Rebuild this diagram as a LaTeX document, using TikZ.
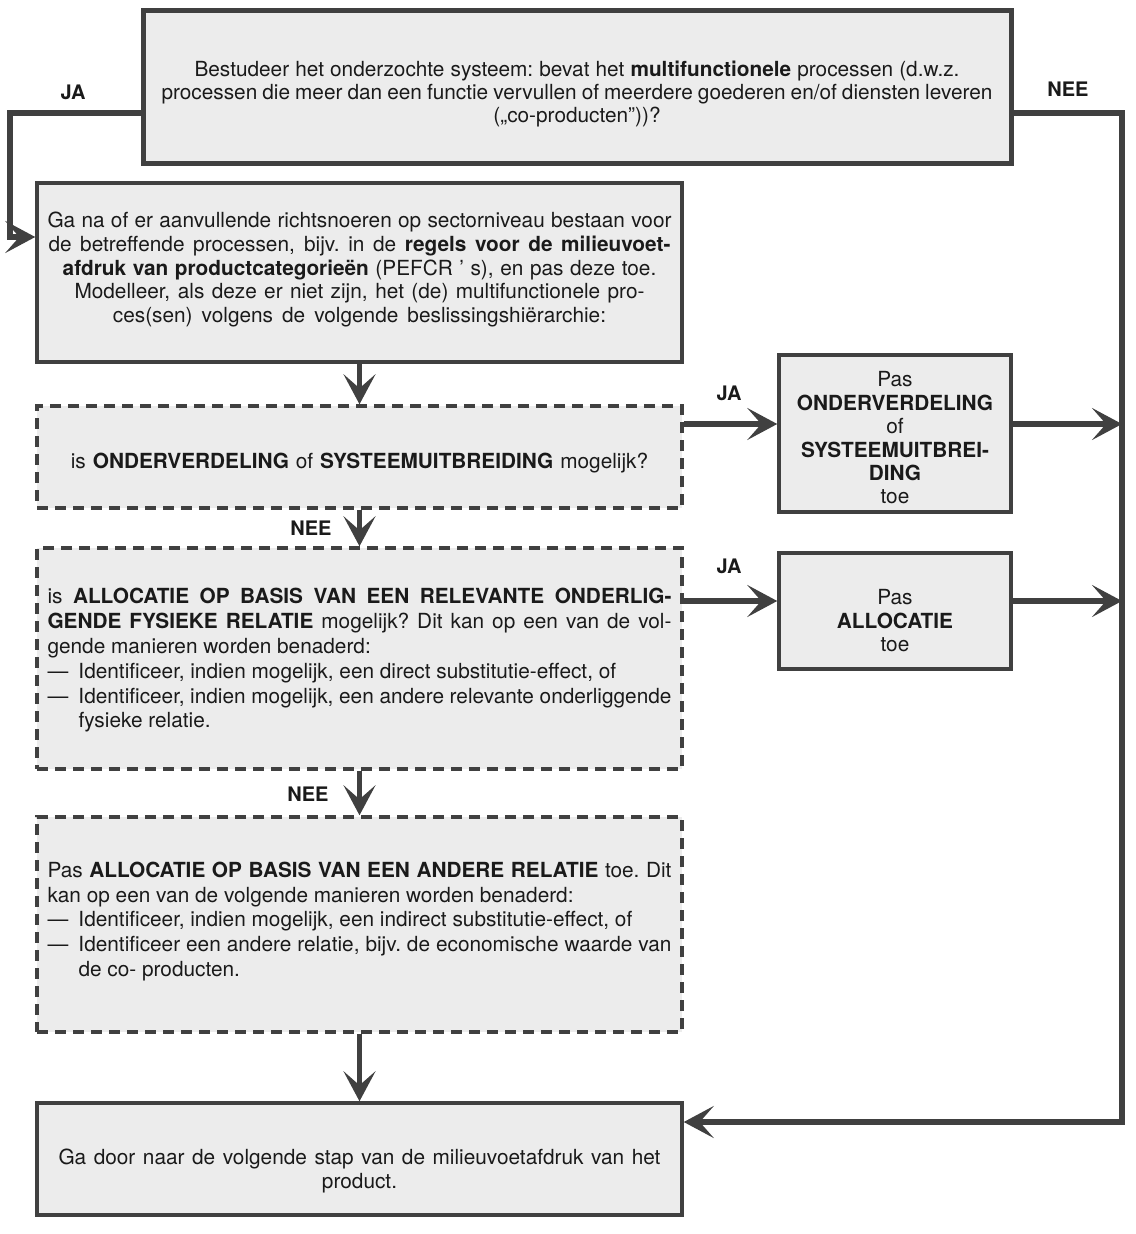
\documentclass[tikz,border=0pt]{standalone}
\usepackage{fontspec}
\setmainfont{TeX Gyre Heros}
\usetikzlibrary{arrows.meta,calc}
\definecolor{ln}{HTML}{404040}
\definecolor{bx}{HTML}{ECECEC}
\definecolor{tx}{HTML}{1A1A1A}
\newcommand{\jl}[2]{\makebox[#1pt][s]{\spaceskip=0.278em plus 1fil minus 0.1em\xspaceskip=\spaceskip #2}}
\newcommand{\nsp}{\spaceskip=0.278em plus 0.1em minus 0.05em\xspaceskip=\spaceskip}
\newcommand{\emd}{\makebox[31pt][l]{—}}
\begin{document}
\begin{tikzpicture}[x=1pt,y=-1pt,
  every node/.style={font=\fontsize{20.8}{24}\selectfont, text=tx},
  boxs/.style={draw=ln, fill=bx, line width=3.5pt, inner sep=0pt},
  dboxs/.style={boxs, dash pattern=on 11pt off 7pt},
  txt/.style={inner sep=0pt},
  conn/.style={draw=ln, line width=5.5pt, -{Stealth[length=30pt,width=32pt,inset=14pt]}},
  plain/.style={draw=ln, line width=5.5pt},
  lbl/.style={font=\bfseries\fontsize{20}{24}\selectfont}]
\useasboundingbox (0,0) rectangle (1135,1234);

% boxes
\node[boxs, line width=5pt, minimum width=868pt, minimum height=153pt] (b1) at (577,86.5) {};
\node[boxs, minimum width=645pt, minimum height=179pt] (b2) at (359.5,272.5) {};
\node[dboxs, minimum width=645pt, minimum height=102pt] (b3) at (359.5,457) {};
\node[boxs, minimum width=232pt, minimum height=157pt] (b4) at (895,433.5) {};
\node[dboxs, minimum width=645pt, minimum height=221pt] (b5) at (359.5,658.5) {};
\node[boxs, minimum width=232pt, minimum height=116pt] (b6) at (895,611) {};
\node[dboxs, minimum width=645pt, minimum height=215pt] (b7) at (359.5,924.5) {};
\node[boxs, minimum width=645pt, minimum height=112pt] (b8) at (359.5,1159) {};

% texts
\node[txt, text width=850pt, align=center, font=\fontsize{20.8}{23}\selectfont] (t1) at (577,94.5)
 {\nsp\jl{765}{Bestudeer het onderzochte systeem: bevat het \textbf{multifunctionele} processen (d.w.z.}\\
  \jl{831}{processen die meer dan een functie vervullen of meerdere goederen en/of diensten leveren}\\
  („co-producten”))?};

\node[txt, text width=624pt, align=center, font=\fontsize{20.8}{23.75}\selectfont] (t2) at (359.5,269.5)
 {\nsp\jl{624}{Ga na of er aanvullende richtsnoeren op sectorniveau bestaan voor}\\
  \jl{622}{de betreffende processen, bijv. in de \textbf{regels voor de milieuvoet-}}\\
  \textbf{afdruk van productcategorieën} (PEFCR ' s), en pas deze toe.\\
  \jl{570}{Modelleer, als deze er niet zijn, het (de) multifunctionele pro-}\\
  ces(sen) volgens de volgende beslissingshiërarchie:};

\node[txt, text width=624pt, align=center] (t3) at (359.5,463)
 {\nsp is \textbf{ONDERVERDELING} of \textbf{SYSTEEMUITBREIDING} mogelijk?};

\node[txt, text width=220pt, align=center, font=\fontsize{20.8}{23.4}\selectfont] (t4) at (895,438)
 {Pas\\\textbf{ONDERVERDELING}\\of\\\textbf{SYSTEEMUITBREI-}\\\textbf{DING}\\toe};

\node[txt, text width=624pt, align=left, font=\fontsize{20.8}{24.8}\selectfont] (t5) at (359.5,660.5)
 {\nsp\jl{624}{is \textbf{ALLOCATIE OP BASIS VAN EEN RELEVANTE ONDERLIG-}}\\
  \jl{624}{\textbf{GENDE FYSIEKE RELATIE} mogelijk? Dit kan op een van de vol-}\\
  gende manieren worden benaderd:\\
  \emd Identificeer, indien mogelijk, een direct substitutie-effect, of\\
  \emd\jl{593}{Identificeer, indien mogelijk, een andere relevante onderliggende}\\
  \hspace*{31pt}fysieke relatie.};

\node[txt, text width=220pt, align=center, font=\fontsize{20.8}{23.5}\selectfont] (t6) at (895,621)
 {Pas\\\textbf{ALLOCATIE}\\toe};

\node[txt, text width=624pt, align=left, font=\fontsize{20.8}{24.8}\selectfont] (t7) at (359.5,921.5)
 {\nsp\jl{624}{Pas \textbf{ALLOCATIE OP BASIS VAN EEN ANDERE RELATIE} toe. Dit}\\
  kan op een van de volgende manieren worden benaderd:\\
  \emd Identificeer, indien mogelijk, een indirect substitutie-effect, of\\
  \emd\jl{593}{Identificeer een andere relatie, bijv. de economische waarde van}\\
  \hspace*{31pt}de co- producten.};

\node[txt, text width=624pt, align=center] (t8) at (359.5,1171)
 {\nsp\jl{602}{Ga door naar de volgende stap van de milieuvoetafdruk van het}\\
  product.};

% routing coordinates
\coordinate (ja1) at (10,113);
\coordinate (ja2) at (10,237);
\coordinate (ne1) at (1122,113);
\coordinate (ne2) at (1122,1122);
\coordinate (r1) at (0,424);
\coordinate (r2) at (0,601);

% right-hand collector line
\draw[plain, line cap=rect] (b1.east |- ne1) -- (ne1) -- (ne2);
\draw[conn] (ne2) -- (b8.east |- ne2);

% JA branch on the left
\draw[conn] (b1.west |- ja1) -- (ja1) -- (ja2) -- (b2.west |- ja2);

% vertical flow
\draw[conn] (b2.south) -- (b3.north);
\draw[conn] (b3.south) -- (b5.north);
\draw[conn] (b5.south) -- (b7.north);
\draw[conn] (b7.south) -- (b8.north);

% yes branches
\draw[conn] (b3.east |- r1) -- (b4.west |- r1);
\draw[conn] (b4.east |- r1) -- (ne1 |- r1);
\draw[conn] (b5.east |- r2) -- (b6.west |- r2);
\draw[conn] (b6.east |- r2) -- (ne1 |- r2);

% labels
\node[lbl] (lja1) at (73,92) {JA};
\node[lbl] (lnee1) at (1068,89) {NEE};
\node[lbl] (lja2) at (729,393) {JA};
\node[lbl] (lnee2) at (311,528) {NEE};
\node[lbl] (lja3) at (729,566) {JA};
\node[lbl] (lnee3) at (308,794) {NEE};
\end{tikzpicture}
\end{document}
